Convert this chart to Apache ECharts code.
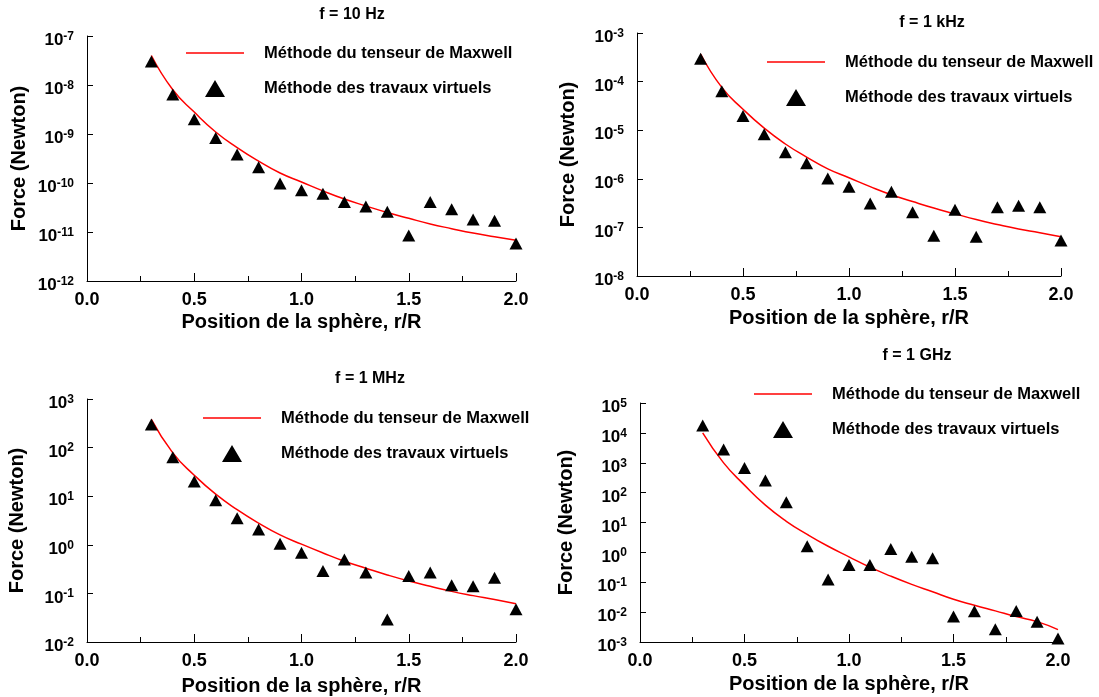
<!DOCTYPE html>
<html><head><meta charset="utf-8">
<script src="https://cdn.jsdelivr.net/npm/echarts@6/dist/echarts.min.js"></script>
<style>html,body{margin:0;padding:0;background:#fff}#c{width:1099px;height:697px}</style>
</head><body><div id="c"></div>
<script>
// ---------- data ----------
const positions = [0.3,0.4,0.5,0.6,0.7,0.8,0.9,1.0,1.1,1.2,1.3,1.4,1.5,1.6,1.7,1.8,1.9,2.0];
const xTickValues = [0.0,0.5,1.0,1.5,2.0];
const panelTitles = ['f = 10 Hz','f = 1 kHz','f = 1 MHz','f = 1 GHz'];
const lineName = 'Méthode du tenseur de Maxwell';
const pointName = 'Méthode des travaux virtuels';
const xName = 'Position de la sphère, r/R';
const yName = 'Force (Newton)';

const maxwell10Hz = [4.0e-8,8.0e-9,2.8e-9,1.1e-9,5.3e-10,2.8e-10,1.6e-10,1.05e-10,6.9e-11,4.7e-11,3.4e-11,2.5e-11,1.9e-11,1.46e-11,1.17e-11,9.5e-12,8.0e-12,6.8e-12];
const virtuels10Hz = [3.0e-8,6.4e-9,2.0e-9,8.3e-10,3.8e-10,2.1e-10,9.8e-11,7.1e-11,6.0e-11,4.1e-11,3.3e-11,2.6e-11,8.5e-12,4.1e-11,2.9e-11,1.8e-11,1.7e-11,5.8e-12];

const maxwell1kHz = [3.7e-4,7.6e-5,2.7e-5,1.1e-5,5.2e-6,2.8e-6,1.6e-6,1.05e-6,6.9e-7,4.7e-7,3.4e-7,2.5e-7,1.9e-7,1.45e-7,1.15e-7,9.3e-8,7.8e-8,6.4e-8];
const virtuels1kHz = [2.95e-4,6.3e-5,1.97e-5,8.3e-6,3.5e-6,2.1e-6,1.02e-6,6.9e-7,3.1e-7,5.4e-7,2.05e-7,6.7e-8,2.3e-7,6.4e-8,2.6e-7,2.8e-7,2.6e-7,5.4e-8];

const maxwell1MHz = [380,78,27,11,5.3,2.8,1.6,1.03,0.68,0.46,0.33,0.24,0.18,0.14,0.11,0.09,0.075,0.061];
const virtuels1MHz = [297,63,20,8.3,3.5,2.07,1.05,0.69,0.29,0.50,0.27,0.029,0.227,0.27,0.148,0.14,0.21,0.047];

const maxwell1GHz = [1.0e4,990,178,38,11,4.0,1.6,0.71,0.32,0.16,0.085,0.048,0.027,0.017,0.011,0.0071,0.0048,0.0026];
const virtuels1GHz = [1.75e4,2750,671,253,48,1.6,0.124,0.38,0.38,1.3,0.71,0.63,0.0071,0.0106,0.00265,0.0109,0.0048,0.0013];

const yMinValues = [1e-12,1e-8,1e-2,1e-3];
const yMaxValues = [1e-7,1e-3,1e3,1e5];

// ---------- layout / style ----------
const FONT = "'Liberation Sans', Arial, sans-serif";
const maxwellSets = [maxwell10Hz, maxwell1kHz, maxwell1MHz, maxwell1GHz];
const virtuelsSets = [virtuels10Hz, virtuels1kHz, virtuels1MHz, virtuels1GHz];
const grids = [
  {left:87, top:36, width:429, height:245},
  {left:637, top:33, width:424, height:243},
  {left:87, top:399, width:429, height:244},
  {left:640, top:403, width:418, height:239}
];
const titlePos = [[352,7],[932,15],[370,371],[917,348]];
const legendPos = [[186,44],[767,53],[203,409],[754,385]];
const yNameGap = [58,59,60,64];
const xNameGap = [31,32,34,32];
// triangle legend icon: a triangle 20 wide drawn in the middle of a 58 x 18 box
const triIcon = 'path://M0,0L0.01,0L0.01,0.01L0,0.01Z M19,18L29,1L39,18Z M57.99,17.99L58,17.99L58,18L57.99,18Z';

const chart = echarts.init(document.getElementById('c'), null, {renderer:'canvas'});

const option = {
  backgroundColor:'#fff',
  animation:false,
  textStyle:{fontFamily:FONT},
  title: panelTitles.map((t,i)=>({
    text:t, left:titlePos[i][0], top:titlePos[i][1], textAlign:'center', textVerticalAlign:'top', padding:0,
    textStyle:{fontFamily:FONT, fontSize:16, fontWeight:'bold', color:'#000'}
  })),
  legend: panelTitles.map((t,i)=>({
    left:legendPos[i][0], top:legendPos[i][1], orient:'vertical', padding:0,
    itemGap:17, itemWidth:58, itemHeight:18, selectedMode:false, symbolKeepAspect:true,
    textStyle:{fontFamily:FONT, fontSize:16.5, fontWeight:'bold', color:'#000', padding:[0,0,0,15], lineHeight:18},
    data:[
      {name:lineName, icon:'path://M0,0L58,0L58,1.6L0,1.6Z', itemStyle:{borderWidth:0}},
      {name:pointName, icon:triIcon, itemStyle:{borderWidth:0, opacity:1}}
    ]
  })),
  grid: grids.map(g=>Object.assign({containLabel:false}, g)),
  xAxis: grids.map((g,i)=>({
    type:'value', gridIndex:i, min:0, max:2, interval:0.5,
    name:xName, nameLocation:'middle', nameGap:xNameGap[i],
    nameTextStyle:{fontFamily:FONT, fontSize:20, fontWeight:'bold', color:'#000', verticalAlign:'top'},
    axisLine:{show:true, onZero:false, lineStyle:{color:'#000', width:1}},
    axisTick:{show:true, inside:true, length:8, lineStyle:{color:'#000'}},
    minorTick:{show:true, splitNumber:2, length:5, lineStyle:{color:'#000'}},
    splitLine:{show:false},
    axisLabel:{fontFamily:FONT, fontSize:18, fontWeight:'bold', color:'#000', margin:10,
      formatter:v=>xTickValues.indexOf(v)>=0 ? v.toFixed(1) : ''}
  })),
  yAxis: grids.map((g,i)=>({
    type:'log', logBase:10, gridIndex:i, min:yMinValues[i], max:yMaxValues[i], splitNumber:8,
    name:yName, nameLocation:'middle', nameGap:yNameGap[i], nameRotate:90,
    nameTextStyle:{fontFamily:FONT, fontSize:20, fontWeight:'bold', color:'#000'},
    axisLine:{show:true, lineStyle:{color:'#000', width:1}},
    axisTick:{show:true, inside:true, length:6, lineStyle:{color:'#000'}},
    minorTick:{show:false},
    splitLine:{show:false},
    axisLabel:{margin:13, color:'#000',
      formatter:v=>'{b|10}{e|' + Math.round(Math.log10(v)) + '}',
      rich:{
        b:{fontFamily:FONT, fontSize:17, fontWeight:'bold', color:'#000', lineHeight:17, padding:[9,0,0,0]},
        e:{fontFamily:FONT, fontSize:12, fontWeight:'bold', color:'#000', lineHeight:12, padding:[3,0,0,0], verticalAlign:'top'}
      }
    }
  })),
  series: [].concat(...grids.map((g,i)=>[
    {
      type:'line', name:lineName, xAxisIndex:i, yAxisIndex:i,
      data:positions.map((x,k)=>[x, maxwellSets[i][k]]),
      smooth:true, symbol:'none', showSymbol:false,
      lineStyle:{color:'#ff0000', width:1.5}, itemStyle:{color:'#ff0000'}, z:2
    },
    {
      type:'scatter', name:pointName, xAxisIndex:i, yAxisIndex:i,
      data:positions.map((x,k)=>[x, virtuelsSets[i][k]]),
      symbol:'triangle', symbolSize:[13,12],
      itemStyle:{color:'#000', opacity:1}, z:3
    }
  ]))
};
chart.setOption(option);
</script>
</body></html>
